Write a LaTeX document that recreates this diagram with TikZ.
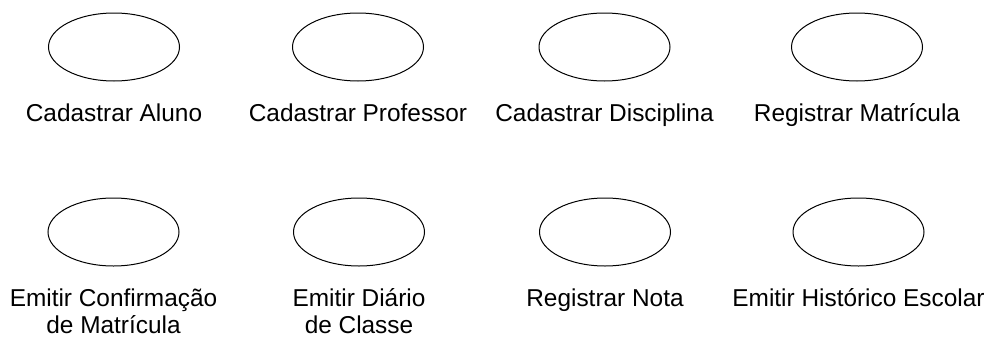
\documentclass[tikz,border=0pt]{standalone}
\usepackage{fontspec}
\setmainfont{Liberation Sans}
\usetikzlibrary{positioning,shapes.geometric}
\tikzset{
  usecase/.style={draw=black, ellipse, line width=0.5pt, minimum width=65.5pt, minimum height=34pt, inner sep=0pt},
  ucname/.style={font=\fontsize{12.2}{13.5}\selectfont, align=center, inner sep=0pt, anchor=base}
}

\begin{document}
\begin{tikzpicture}[x=0.5pt, y=-0.5pt]
  \useasboundingbox (0,0) rectangle (990,337);
  % first row
  \node[usecase] (ucAluno) at (114,47) {};
  \node[usecase] (ucProfessor) at (358,47) {};
  \node[usecase] (ucDisciplina) at (604.5,47) {};
  \node[usecase] (ucMatricula) at (857,47) {};
  \node[below=20pt of ucAluno, ucname] (nmAluno) {Cadastrar Aluno};
  \node[below=20pt of ucProfessor, ucname] (nmProfessor) {Cadastrar Professor};
  \node[below=20pt of ucDisciplina, ucname] (nmDisciplina) {Cadastrar Disciplina};
  \node[below=20pt of ucMatricula, ucname] (nmMatricula) {Registrar Matrícula};
  % second row (base of a two-line node is its last line)
  \node[usecase] (ucConfirmacao) at (113.5,232) {};
  \node[usecase] (ucDiario) at (359,232) {};
  \node[usecase] (ucNota) at (605,232) {};
  \node[usecase] (ucHistorico) at (858.5,232) {};
  \node[below=33.5pt of ucConfirmacao, ucname] (nmConfirmacao) {Emitir Confirmação\\de Matrícula};
  \node[below=33.5pt of ucDiario, ucname] (nmDiario) {Emitir Diário\\de Classe};
  \node[below=20pt of ucNota, ucname] (nmNota) {Registrar Nota};
  \node[below=20pt of ucHistorico, ucname] (nmHistorico) {Emitir Histórico Escolar};
\end{tikzpicture}
\end{document}
